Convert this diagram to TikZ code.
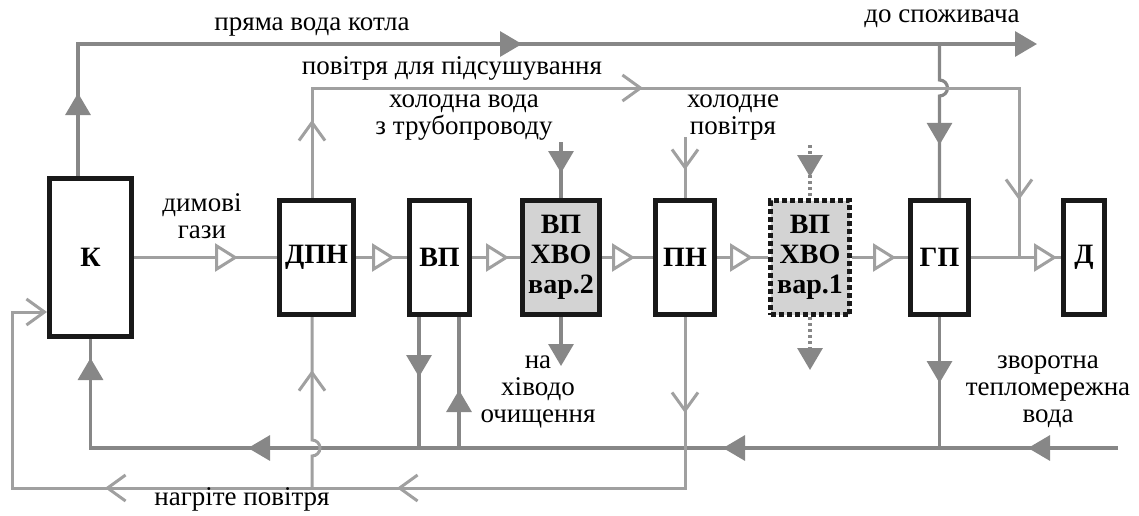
\documentclass[tikz,border=0pt]{standalone}
\usepackage{fontspec}
\setmainfont{Liberation Serif}
\usetikzlibrary{arrows.meta,positioning,backgrounds,decorations.markings}

\definecolor{boxgray}{HTML}{D3D3D3}
\definecolor{watergray}{HTML}{878787}
\definecolor{airgray}{HTML}{A0A0A0}

\begin{document}
\begin{tikzpicture}[
  x=1pt, y=-1pt,
  font=\fontsize{27}{27}\selectfont,
  unit/.style={draw=black!90, line width=5pt, fill=white, align=center, inner sep=2pt, minimum height=114pt, font=\fontsize{28}{30}\selectfont\bfseries},
  hvo/.style={unit, fill=boxgray},
  dotbox/.style={dash pattern=on 5pt off 3pt},
  lbl/.style={align=center, inner sep=0pt},
  wline/.style={draw=watergray, line width=3.2pt},
  aline/.style={draw=airgray, line width=3pt},
  gline/.style={draw=airgray, line width=3pt},
  wtip/.style={postaction={decorate, decoration={markings, mark=at position #1 with {\arrow{Triangle[length=22pt,width=25pt]}}}}},
  atip/.style={postaction={decorate, decoration={markings, mark=at position #1 with {\arrow{Straight Barb[length=18pt,width=26pt]}}}}},
  gtip/.style={postaction={decorate, decoration={markings, mark=at position #1 with {\arrow{Triangle[length=23pt,width=28pt,fill=white]}}}}},
]
\useasboundingbox (0,0) rectangle (1139,515);
% агрегати
\node[unit, minimum width=82pt, minimum height=158pt] (K) at (90.5,257.5) {К};
\node[unit, minimum width=74pt, right=143pt of K] (P) {ДПН};
\node[unit, minimum width=60pt, right=51pt of P] (V) {ВП};
\node[hvo, minimum width=77pt, right=48pt of V] (X2) {ВП\\ХВО\\вар.2};
\node[unit, minimum width=59pt, right=51pt of X2] (N) {ПН};
\node[hvo, dotbox, minimum width=79pt, right=51pt of N] (X1) {ВП\\ХВО\\вар.1};
\node[unit, minimum width=58pt, right=56pt of X1] (G) {ГП};
\node[unit, minimum width=41pt, right=90pt of G] (D) {Д};
% підписи
\node[lbl] (ltop) at (312,27) {пряма вода котла};
\node[lbl] (lcons) at (942,19) {до споживача};
\node[lbl] (ldry) at (452,68) {повітря для підсушування};
\node[lbl] (lcw) at (464,118) {холодна вода\\з трубопроводу};
\node[lbl] (lca) at (733,118) {холодне\\повітря};
\node[lbl] (lgas) at (202,216) {димові\\гази};
\node[lbl] (ldrain) at (538,392) {на\\хіводо\\очищення};
\node[lbl] (lret) at (1048,392) {зворотна\\тепломережна\\вода};
\node[lbl] (lhot) at (242,499) {нагріте повітря};
% точки
\coordinate (kup) at (78,44);
\coordinate (cons) at (1037,44);
\coordinate (gptop) at (939.5,44);
\coordinate (jmp1) at (939.5,80);
\coordinate (dry1) at (312,88);
\coordinate (dry2) at (1019,88);
\coordinate (cw) at (561,142);
\coordinate (ca) at (685,137);
\coordinate (cw1) at (810,145);
\coordinate (x2out) at (561,366);
\coordinate (x1out) at (810,370);
\coordinate (ret0) at (1118,448);
\coordinate (kret) at (90.5,448);
\coordinate (vd) at (419,448);
\coordinate (vu) at (459,448);
\coordinate (hotL) at (12,488);
\coordinate (hotU) at (12,312);
\coordinate (hp) at (312,488);
\coordinate (jmp2) at (312,456);
% лінії
\begin{scope}[on background layer]
\draw[wline, wtip=83pt, wtip=576pt, -{Triangle[length=22pt,width=25pt]}] (kup |- K.north) -- (kup) -- (cons);
\draw[wline, wtip=110pt] (G.north |- gptop) -- (G.north |- jmp1) arc(-90:90:8) -- (G.north);
\draw[aline, atip=78pt, atip=441pt, atip=929pt] (dry1 |- P.north) -- (dry1) -- (dry2) -- (dry2 |- G.east);
\draw[gline, gtip=-39pt] (K.east) -- (P.west);
\draw[gline, gtip=-12pt] (P.east) -- (V.west);
\draw[gline, gtip=-11pt] (V.east) -- (X2.west);
\draw[gline, gtip=-18pt] (X2.east) -- (N.west);
\draw[gline, gtip=-15pt] (N.east) -- (X1.west);
\draw[gline, gtip=-12pt] (X1.east) -- (G.west);
\draw[gline, gtip=-4pt] (G.east) -- (D.west);
\draw[wline, wtip=31pt] (X2.north |- cw) -- (X2.north);
\draw[aline, atip=33pt] (N.north |- ca) -- (N.north);
\draw[wline, dashed, wtip=32pt] (X1.north |- cw1) -- (X1.north);
\draw[wline, -{Triangle[length=22pt,width=25pt]}] (X2.south) -- (X2.south |- x2out);
\draw[wline, dashed, -{Triangle[length=22pt,width=25pt]}] (X1.south) -- (X1.south |- x1out);
\draw[wline, wtip=90pt, wtip=395pt, wtip=870pt, wtip=1117.5pt] (ret0) -- (K.south |- kret) -- (K.south);
\draw[wline, wtip=66pt] (G.south) -- (G.south |- ret0);
\draw[wline, wtip=60pt] (vd |- V.south) -- (vd);
\draw[wline, wtip=58pt] (vu) -- (vu |- V.south);
\draw[aline, atip=96pt, atip=459pt, atip=751pt, -{Straight Barb[length=18pt,width=26pt]}] (N.south) -- (N.south |- hotL) -- (hotL) -- (hotU) -- (hotU -| K.west);
\draw[aline, atip=127pt] (hp) -- (jmp2) arc(90:-90:8) -- (hp |- P.south);
\end{scope}
\end{tikzpicture}
\end{document}
